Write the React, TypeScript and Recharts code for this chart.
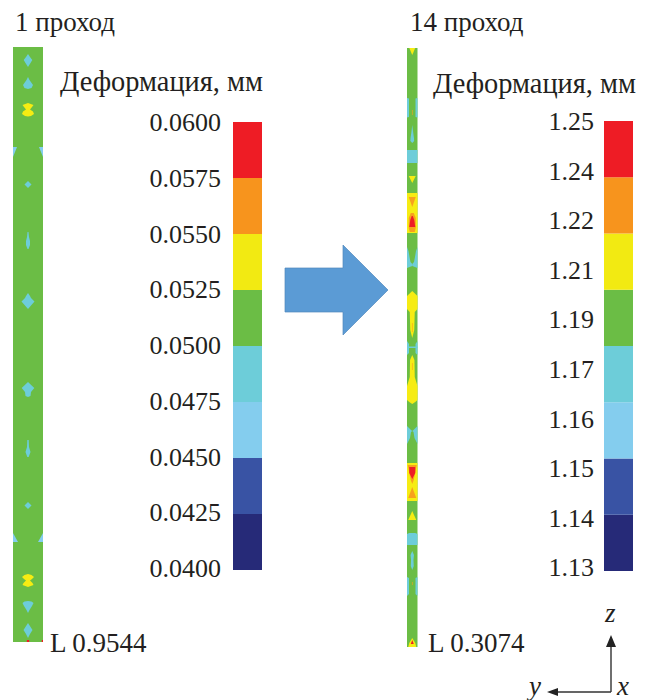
/**
 * Deformation of the specimen after pass 1 and pass 14
 */
import { Area, Bar, ComposedChart, Line, XAxis, YAxis } from 'recharts';

type Profile = number[][];

// colour scales, listed from the bottom band to the top band
const bandColors = ['#262a78', '#3953a4', '#84cdee', '#6dcdd9', '#6bbd45', '#f2ea12', '#f7941d', '#ee1c25'];
const leftTicks = ['0.0400', '0.0425', '0.0450', '0.0475', '0.0500', '0.0525', '0.0550', '0.0575', '0.0600'];
const rightTicks = ['1.13', '1.14', '1.15', '1.16', '1.17', '1.19', '1.21', '1.22', '1.24', '1.25'];

// contours on the strips: [distance along the strip, half width of the zone]
const leftTeal: Profile[] = [
  [[7, 0], [10, 2], [13, 4.3], [16, 2.5], [20, 0]],
  [[30, 0], [33, 1.5], [38, 5], [41, 3.5], [42, 0]],
  [[134, 0], [137.5, 3.5], [141, 0]],
  [[185, 0.5], [190, 1], [194, 2], [198, 2], [202, 0.5]],
  [[246, 0], [249, 2], [251, 3], [254.5, 6.5], [262, 0]],
  [[335, 0], [341, 6.3], [345, 3], [349, 2.5], [350, 0]],
  [[393, 0.7], [400, 1], [405, 2.5], [410, 0.7]],
  [[455, 0], [458.5, 3.5], [462, 0]],
  [[554, 0], [554.5, 3.5], [556, 5.5], [559, 4], [563, 1.5], [566, 0]],
  [[576, 0], [583, 4.5], [587, 2], [591, 0]],
];
const leftYellow: Profile[] = [
  [[56, 0], [58, 5.5], [60, 4], [62.5, 2], [64.5, 5], [67, 6], [69, 3], [69.5, 0]],
  [[527, 0], [528, 3.5], [530, 6], [532, 4], [533.5, 2], [536, 4.5], [538, 5.5], [540, 0]],
];
const leftRed: Profile[] = [[[593, 1.2], [595, 1.2]]];
const leftRedCorner: Profile[] = [[[593, 1.2], [595, 1.2]]];
const leftSkyEdges: Profile[] = [
  [[100, 0], [100.1, 4], [110, 0]],
  [[486, 0], [495, 5], [495.1, 0]],
];

const rightYellow: Profile[] = [
  [[0, 3], [7, 0]],
  [[128, 3.5], [135, 0]],
  [[145, 5.25], [185, 5.25]],
  [[243, 0], [248, 5.25], [261, 5.25], [264, 2.5], [282, 2], [290, 0]],
  [[307, 0], [312, 2.2], [329, 2.5], [338, 5.25], [352, 5.25], [354, 3], [356, 0]],
  [[415, 5.25], [453, 5.25]],
  [[463, 0], [472, 4]],
  [[590, 0], [595, 3], [599, 4]],
];
const rightOrange: Profile[] = [
  [[62, 0.3], [67, 0.3]],
  [[149, 3.5], [159, 0]],
  [[165, 1.5], [170, 3.5], [180, 3.5], [184, 2.5]],
  [[275, 0.3], [284, 0.3]],
  [[315, 0.3], [322, 0.3]],
  [[417, 4.5], [432, 1.5], [436, 0]],
  [[439, 0], [450, 4]],
  [[534, 0.3], [537, 0.3]],
];
const rightRed: Profile[] = [
  [[168, 0.5], [172, 2], [179, 3]],
  [[419, 3], [425, 3], [431, 0]],
  [[592, 0], [596, 1.5]],
];
const rightTeal: Profile[] = [
  [[77, 0], [85, 1], [90, 1.7], [93, 1.9], [95, 0]],
  [[102, 5.25], [115, 5.25]],
  [[298.5, 5.25], [300, 5.25]],
  [[485, 3], [486, 5.25], [497, 5.25]],
  [[503, 0], [507, 1.7], [512, 1.2], [518, 1.5], [522, 0]],
];
const rightTealEdges: Profile[] = [
  [[50, 0], [50.5, 2], [69, 2], [69.5, 0]],
  [[199, 0], [203, 1.5], [210, 2.7], [214, 3.5], [216, 5.25], [218, 5.25], [220, 0]],
  [[293, 0], [296, 2], [305, 2], [307, 0]],
  [[378, 0], [382, 4], [383, 5.25], [384, 4], [390, 3], [396, 0]],
  [[529, 0], [530, 2], [546, 2], [548, 0]],
];

const GREEN = '#6bbd45';
const TEAL = '#6dcdd9';
const SKY = '#84cdee';
const YELLOW = '#f6ec13';
const ORANGE = '#f7a11d';
const RED = '#ee1c25';
const SERIF = '"Liberation Serif", serif';

const zone = (fill: string, key: string, rows: { z: number; band: number[] }[]) => (
  <Area
    key={key}
    data={rows}
    dataKey="band"
    type="linear"
    fill={fill}
    fillOpacity={1}
    stroke="none"
    dot={false}
    activeDot={false}
    isAnimationActive={false}
  />
);

const centered = (fill: string, name: string, list: Profile[]) =>
  list.map((p, i) => zone(fill, `${name}${i}`, p.map(([z, w]) => ({ z, band: [-w, w] }))));

const rightEdge = (fill: string, name: string, list: Profile[], half: number) =>
  list.map((p, i) => zone(fill, `${name}r${i}`, p.map(([z, w]) => ({ z, band: [half - w, half] }))));

const edges = (fill: string, name: string, list: Profile[], half: number) => [
  ...list.map((p, i) => zone(fill, `${name}l${i}`, p.map(([z, w]) => ({ z, band: [-half, -half + w] })))),
  ...rightEdge(fill, name, list, half),
];

const Strip = ({ left, top, width, height, children }: any) => (
  <div style={{ position: 'absolute', left, top }}>
    <ComposedChart width={width} height={height} layout="vertical" margin={{ top: 0, right: 0, bottom: 0, left: 0 }}>
      <XAxis type="number" domain={[-width / 2, width / 2]} hide />
      <YAxis type="number" dataKey="z" domain={[0, height]} hide />
      {centered(GREEN, 'base', [[[0, width / 2], [height, width / 2]]])}
      {children}
    </ComposedChart>
  </div>
);

const ColorBar = ({ left, top, height, ticks, axisWidth, gap, labelFloor }: any) => (
  <div style={{ position: 'absolute', left, top }}>
    <ComposedChart
      width={axisWidth + 29}
      height={height}
      data={[{ ...Object.fromEntries(bandColors.map((_, i) => [`b${i}`, 1])), anchor: 0 }]}
      barCategoryGap={0}
      margin={{ top: 20, right: 0, bottom: 20, left: 0 }}
    >
      <XAxis hide />
      <YAxis yAxisId="bands" hide width={0} type="number" domain={[0, bandColors.length]} />
      <YAxis
        yAxisId="labels"
        type="number"
        width={axisWidth}
        domain={[labelFloor, ticks.length - 1]}
        ticks={ticks.map((_: string, i: number) => i)}
        interval={0}
        tickFormatter={(i: number) => ticks[i]}
        axisLine={false}
        tickLine={false}
        tickMargin={gap}
        tick={{ fontSize: 26, fontFamily: SERIF, fill: '#231f20' }}
      />
      {bandColors.map((c, i) => (
        <Bar key={c} yAxisId="bands" dataKey={`b${i}`} stackId="scale" fill={c} isAnimationActive={false} />
      ))}
      {/* keeps the label axis alive, it has no marks of its own */}
      <Line
        yAxisId="labels"
        dataKey="anchor"
        stroke="none"
        strokeWidth={0}
        dot={{ r: 0, fill: 'none', stroke: 'none' }}
        activeDot={false}
        isAnimationActive={false}
      />
    </ComposedChart>
  </div>
);

const Annotations = () => (
  <svg
    width={650}
    height={700}
    style={{ position: 'absolute', left: 0, top: 0, pointerEvents: 'none' }}
    fontFamily={SERIF}
    fontSize={27}
    fill="#231f20"
  >
    <text x={15} y={31}>1 проход</text>
    <text x={410} y={31}>14 проход</text>
    <text x={60} y={91} fontSize={28.4}>Деформация, мм</text>
    <text x={433} y={93} fontSize={28.4}>Деформация, мм</text>
    <text x={50} y={652}>L 0.9544</text>
    <text x={428} y={652}>L 0.3074</text>
    <path
      d="M285 268H343V245L388 290L343 335V312H285Z"
      fill="#5b9bd5"
      stroke="#5288bb"
      strokeWidth={0.7}
    />
    <path d="M611 692V642M611 692H552" stroke="#333" strokeWidth={1.4} fill="none" />
    <path d="M611 635L616 647H606Z M547 692L558 688V696Z" fill="#222" />
    <text x={605} y={622} fontStyle="italic">z</text>
    <text x={529} y={695} fontStyle="italic">y</text>
    <text x={617} y={695} fontStyle="italic">x</text>
  </svg>
);

export default function App() {
  return (
    <div style={{ position: 'absolute', left: 0, top: 0, width: 650, height: 700, background: '#fff' }}>
      <Strip left={13} top={47} width={30} height={595}>
        {centered(TEAL, 'lt', leftTeal)}
        {centered(YELLOW, 'ly', leftYellow)}
        {centered(RED, 'lr', leftRed)}
        {rightEdge(RED, 'lc', leftRedCorner, 15)}
        {edges(SKY, 'ls', leftSkyEdges, 15)}
      </Strip>
      <Strip left={407} top={48} width={10.5} height={599}>
        {centered(TEAL, 'rt', rightTeal)}
        {edges(TEAL, 'rte', rightTealEdges, 5.25)}
        {centered(YELLOW, 'ry', rightYellow)}
        {centered(ORANGE, 'ro', rightOrange)}
        {centered(RED, 'rr', rightRed)}
      </Strip>
      <ColorBar left={140} top={102} height={488} ticks={leftTicks} axisWidth={93} gap={6} labelFloor={-0.04} />
      <ColorBar left={510} top={101} height={490} ticks={rightTicks} axisWidth={94} gap={4} labelFloor={-0.08} />
      <Annotations />
    </div>
  );
}
